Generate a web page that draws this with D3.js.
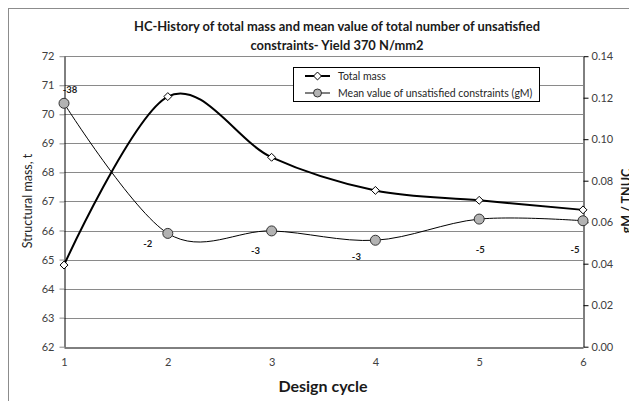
<!DOCTYPE html>
<html><head><meta charset="utf-8">
<script src="https://cdn.jsdelivr.net/npm/d3@7"></script>
<style>body{margin:0;background:#fff}svg{display:block}</style>
</head><body>
<svg id="c" width="629" height="401"></svg>
<script>
const cycles = [1, 2, 3, 4, 5, 6];
const totalMass = [64.81, 70.61, 68.52, 67.38, 67.04, 66.71];
const meanGM = [0.1173, 0.0546, 0.0558, 0.0513, 0.0615, 0.0607];
const tnucLabels = ["-38", "-2", "-3", "-3", "-5", "-5"];
const leftTicks = [62, 63, 64, 65, 66, 67, 68, 69, 70, 71, 72];
const rightTicks = [0, 0.02, 0.04, 0.06, 0.08, 0.10, 0.12, 0.14];
const titleLines = ["HC-History of total mass and mean value of total number of unsatisfied", "constraints- Yield 370 N/mm2"];
const legendNames = ["Total mass", "Mean value of unsatisfied constraints (gM)"];

// label offsets (pixels) relative to each gM point
const labelDx = [6, -20, -16, -19, 1, -8];
const labelDy = [-14, 10, 20, 16, 31, 29];

const svg = d3.select("#c");
const font = "Lato, 'Open Sans', sans-serif";
const L = 64, R = 583, T = 56.2, B = 346.7;

const x = d3.scaleLinear().domain([1, 6]).range([L, R]);
const yL = d3.scaleLinear().domain([62, 72]).range([B, T]);
const yR = d3.scaleLinear().domain([0, 0.14]).range([B, T]);

// outer frame
svg.append("rect").attr("x", 8.5).attr("y", 8.5).attr("width", 640).attr("height", 420)
  .attr("fill", "none").attr("stroke", "#8c8c8c").attr("stroke-width", 1);

// gridlines
svg.append("g").selectAll("line").data(leftTicks.slice(1)).join("line")
  .attr("x1", L).attr("x2", R)
  .attr("y1", d => Math.round(yL(d)) + 0.5).attr("y2", d => Math.round(yL(d)) + 0.5)
  .attr("stroke", "#8a8a8a").attr("stroke-width", 1);

// left axis
const ga = svg.append("g").attr("transform", `translate(${L + 0.5},0)`)
  .call(d3.axisLeft(yL).tickValues(leftTicks).tickFormat(d3.format("d")).tickSize(5).tickSizeOuter(0));
ga.select(".domain").attr("stroke", "#000");
ga.selectAll(".tick line").attr("stroke", "#8a8a8a");
ga.selectAll("text").attr("font-family", font).attr("font-size", 11).attr("fill", "#404040").attr("x", -10);

// right axis
const gr = svg.append("g").attr("transform", `translate(${R + 0.5},0)`)
  .call(d3.axisRight(yR).tickValues(rightTicks).tickFormat(d3.format(".2f")).tickSize(5).tickSizeOuter(0));
gr.select(".domain").attr("stroke", "#000");
gr.selectAll(".tick line").attr("stroke", "#000");
gr.selectAll("text").attr("font-family", font).attr("font-size", 11).attr("fill", "#404040").attr("x", 8);

// bottom axis
const gb = svg.append("g").attr("transform", `translate(0,${Math.round(B) + 0.5})`)
  .call(d3.axisBottom(x).tickValues(cycles).tickFormat(d3.format("d")).tickSize(0).tickSizeOuter(0));
gb.select(".domain").attr("stroke", "#000");
gb.selectAll("text").attr("font-family", font).attr("font-size", 11).attr("fill", "#404040").attr("dy", "1.4em");

// titles
svg.append("text").attr("font-family", font).attr("font-weight", "bold").attr("font-size", 12.9)
  .attr("text-anchor", "middle").attr("fill", "#1a1a1a")
  .selectAll("tspan").data(titleLines).join("tspan")
  .attr("x", 337).attr("y", (d, i) => 31 + i * 18.5).text(d => d);

svg.append("text").attr("font-family", font).attr("font-weight", "bold").attr("font-size", 16)
  .attr("text-anchor", "middle").attr("fill", "#1a1a1a")
  .attr("x", 323).attr("y", 392).text("Design cycle");

svg.append("text").attr("font-family", font).attr("font-size", 12.5).attr("fill", "#262626")
  .attr("text-anchor", "middle")
  .attr("transform", "translate(32,201) rotate(-90)").text("Structural mass, t");

svg.append("text").attr("font-family", font).attr("font-weight", "bold").attr("font-size", 12.5).attr("fill", "#1a1a1a")
  .attr("text-anchor", "middle")
  .attr("transform", "translate(631,201) rotate(-90)").text("gM / TNUC");

// lines
const curve = d3.curveCatmullRom.alpha(0);
const lineL = d3.line().x((d, i) => x(cycles[i])).y(d => yL(d)).curve(curve);
const lineR = d3.line().x((d, i) => x(cycles[i])).y(d => yR(d)).curve(curve);

svg.append("path").datum(meanGM).attr("d", lineR).attr("fill", "none").attr("stroke", "#000").attr("stroke-width", 1);
svg.append("path").datum(totalMass).attr("d", lineL).attr("fill", "none").attr("stroke", "#000").attr("stroke-width", 2);

const diamond = d3.symbol().type(d3.symbolDiamond2).size(40);
svg.append("g").selectAll("circle").data(meanGM).join("circle")
  .attr("cx", (d, i) => x(cycles[i])).attr("cy", d => yR(d)).attr("r", 5)
  .attr("fill", "#b3b3b3").attr("stroke", "#333").attr("stroke-width", 1);
svg.append("g").selectAll("path").data(totalMass).join("path")
  .attr("d", diamond).attr("transform", (d, i) => `translate(${x(cycles[i])},${yL(d)})`)
  .attr("fill", "#fff").attr("stroke", "#000").attr("stroke-width", 1);

// data labels
svg.append("g").selectAll("text").data(tnucLabels).join("text")
  .attr("x", (d, i) => x(cycles[i]) + labelDx[i]).attr("y", (d, i) => yR(meanGM[i]) + labelDy[i])
  .attr("dy", "0.35em").attr("text-anchor", "middle")
  .attr("font-family", font).attr("font-weight", "bold").attr("font-size", 9.5).attr("fill", "#1a1a1a")
  .text(d => d);

// legend
const lg = svg.append("g");
lg.append("rect").attr("x", 293.5).attr("y", 67.5).attr("width", 246).attr("height", 34)
  .attr("fill", "#fff").attr("stroke", "#000").attr("stroke-width", 1);
const rows = lg.selectAll("g").data(legendNames).join("g")
  .attr("transform", (d, i) => `translate(0,${76 + i * 17})`);
rows.append("line").attr("x1", 305).attr("x2", 330).attr("y1", 0).attr("y2", 0)
  .attr("stroke", "#000").attr("stroke-width", (d, i) => i === 0 ? 2 : 1);
rows.filter((d, i) => i === 0).append("path").attr("d", diamond).attr("transform", "translate(317.5,0)")
  .attr("fill", "#fff").attr("stroke", "#000");
rows.filter((d, i) => i === 1).append("circle").attr("cx", 317.5).attr("cy", 0).attr("r", 4)
  .attr("fill", "#b3b3b3").attr("stroke", "#333");
rows.append("text").attr("x", 338).attr("y", 0).attr("dy", "0.35em")
  .attr("font-family", font).attr("font-size", 10.5).attr("fill", "#262626").text(d => d);
</script>
</body></html>
